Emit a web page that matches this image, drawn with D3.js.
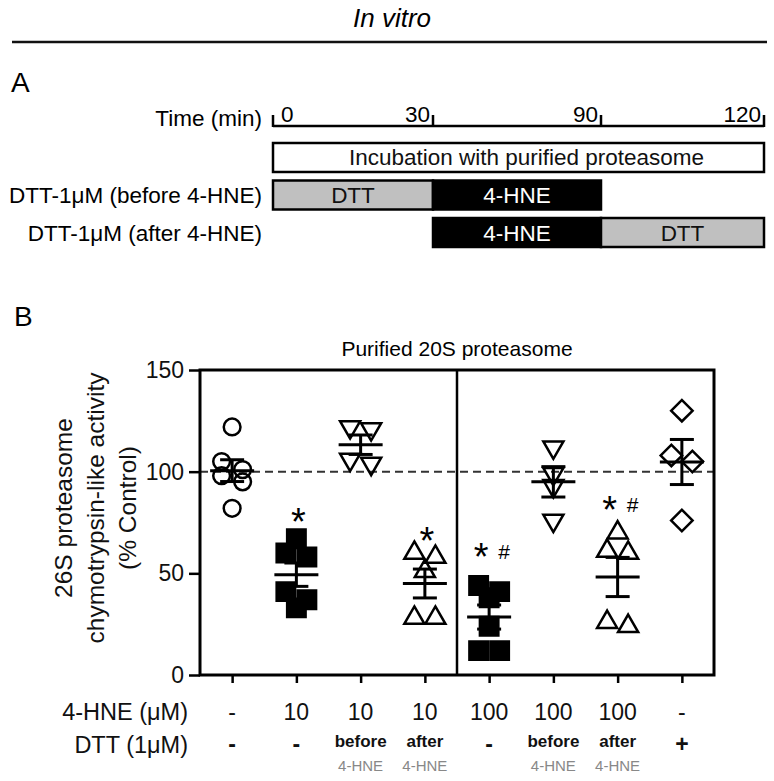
<!DOCTYPE html>
<html><head><meta charset="utf-8">
<script src="https://cdn.jsdelivr.net/npm/d3@7"></script>
<style>
body{margin:0;background:#fff;}
svg{display:block;font-family:"Liberation Sans",Arial,sans-serif;}
</style>
</head><body>
<svg id="c" width="774" height="781"></svg>
<script>
// ---------- Panel A data ----------
const timeTicks = [0, 30, 90, 120];
const timelineRowLabels = ["", "DTT-1\u03bcM (before 4-HNE)", "DTT-1\u03bcM (after 4-HNE)"];
const segRow   = [0, 1, 1, 2, 2];
const segStart = [0, 0, 30, 30, 90];
const segEnd   = [120, 30, 90, 90, 120];
const segLabel = ["Incubation with purified proteasome", "DTT", "4-HNE", "4-HNE", "DTT"];
const segKind  = ["white", "gray", "black", "black", "gray"];

// ---------- Panel B data ----------
const hneLabels = ["-", "10", "10", "10", "100", "100", "100", "-"];
const dttLabels = ["-", "-", "before", "after", "-", "before", "after", "+"];
const dttSubLabels = ["", "", "4-HNE", "4-HNE", "", "4-HNE", "4-HNE", ""];
const groupValues = [
  [122, 105, 101, 98, 95, 82],
  [67, 60, 58, 41, 37, 33],
  [122, 121, 106, 104],
  [60, 58, 51, 28, 28],
  [44, 41, 38, 24, 12, 12],
  [112, 99, 93, 76],
  [70, 61, 60, 26, 24],
  [130, 108, 105, 76]
];
const markerShapes = ["circle", "square", "triangleDown", "triangleUp", "square", "triangleDown", "triangleUp", "diamond"];
const markerFilled = [false, true, false, false, true, false, false, false];
const sigLabels = ["", "*", "", "*", "*#", "", "*#", ""];
const sigLevels = [null, 79, null, 70, 62, null, 85, null];
const yTicks = [0, 50, 100, 150];
const referenceLevel = 100;

const svg = d3.select("#c");

// ---------- Header ----------
svg.append("text").attr("x", 392).attr("y", 27).attr("text-anchor", "middle")
  .attr("font-size", 26).attr("font-style", "italic").text("In vitro");
svg.append("line").attr("x1", 12).attr("x2", 767).attr("y1", 42).attr("y2", 42)
  .attr("stroke", "#111").attr("stroke-width", 2.5);
svg.append("text").attr("x", 11).attr("y", 92).attr("font-size", 28).text("A");
svg.append("text").attr("x", 14).attr("y", 326).attr("font-size", 28).text("B");

// ---------- Panel A ----------
const tx = d3.scaleLinear().domain(timeTicks).range([273, 433, 601, 764]);
const rowY = d3.scaleBand().domain([0, 1, 2]).range([143, 247]).paddingInner(0.227);
const axisY = 126;
const fsA = 22.5;
const gA = svg.append("g");
gA.append("line").attr("x1", tx(0)).attr("x2", tx(120)).attr("y1", axisY).attr("y2", axisY)
  .attr("stroke", "#000").attr("stroke-width", 2.5);
gA.selectAll(".tt").data(timeTicks).join("line")
  .attr("x1", d => tx(d)).attr("x2", d => tx(d)).attr("y1", axisY + 1).attr("y2", axisY - 11)
  .attr("stroke", "#000").attr("stroke-width", 2.5);
gA.selectAll(".tl").data(timeTicks).join("text")
  .attr("x", (d, i) => i === 0 ? tx(d) + 8 : tx(d) - 3)
  .attr("y", axisY - 4)
  .attr("text-anchor", (d, i) => i === 0 ? "start" : "end")
  .attr("font-size", fsA).text(d => d);
gA.append("text").attr("x", 262).attr("y", axisY).attr("text-anchor", "end")
  .attr("font-size", fsA).text("Time (min)");
gA.selectAll(".rl").data(timelineRowLabels).join("text")
  .attr("x", 262).attr("y", (d, i) => rowY(i) + rowY.bandwidth() / 2 + 8)
  .attr("text-anchor", "end").attr("font-size", fsA).text(d => d);
const fills = {white: "#fff", gray: "#c0c0c0", black: "#000"};
const segIdx = d3.range(segRow.length);
gA.selectAll(".seg").data(segIdx).join("rect")
  .attr("x", i => tx(segStart[i])).attr("y", i => rowY(segRow[i]))
  .attr("width", i => tx(segEnd[i]) - tx(segStart[i])).attr("height", rowY.bandwidth())
  .attr("fill", i => fills[segKind[i]]).attr("stroke", "#000").attr("stroke-width", 2.5);
gA.selectAll(".segt").data(segIdx).join("text")
  .attr("x", i => (tx(segStart[i]) + tx(segEnd[i])) / 2 + (segKind[i] === "white" ? 8 : 0))
  .attr("y", i => rowY(segRow[i]) + rowY.bandwidth() / 2 + 8)
  .attr("text-anchor", "middle").attr("font-size", fsA)
  .attr("fill", i => segKind[i] === "black" ? "#fff" : "#111")
  .text(i => segLabel[i]);

// ---------- Panel B ----------
const L = 200, R = 714, T = 370, B = 675;
const x = d3.scalePoint().domain(d3.range(groupValues.length)).range([L, R]).padding(0.5);
const y = d3.scaleLinear().domain([0, 150]).range([B, T]);
const gB = svg.append("g");

gB.append("text").attr("x", (L + R) / 2).attr("y", 356).attr("text-anchor", "middle")
  .attr("font-size", 21).text("Purified 20S proteasome");

gB.append("line").attr("x1", L).attr("x2", R).attr("y1", y(referenceLevel)).attr("y2", y(referenceLevel))
  .attr("stroke", "#333").attr("stroke-width", 2).attr("stroke-dasharray", "8,5");

gB.append("rect").attr("x", L).attr("y", T).attr("width", R - L).attr("height", B - T)
  .attr("fill", "none").attr("stroke", "#000").attr("stroke-width", 3);
const divX = (x(3) + x(4)) / 2;
gB.append("line").attr("x1", divX).attr("x2", divX).attr("y1", T).attr("y2", B)
  .attr("stroke", "#000").attr("stroke-width", 2.5);

const yAxis = gB.append("g").attr("transform", `translate(${L},0)`)
  .call(d3.axisLeft(y).tickValues(yTicks).tickSize(11).tickPadding(5));
yAxis.select(".domain").remove();
yAxis.selectAll("line").attr("stroke-width", 2.5);
yAxis.selectAll("text").attr("font-size", 23).attr("font-family", "Liberation Sans, Arial, sans-serif").attr("fill", "#111");
const xAxis = gB.append("g").attr("transform", `translate(0,${B})`)
  .call(d3.axisBottom(x).tickFormat("").tickSize(8));
xAxis.select(".domain").remove();
xAxis.selectAll("line").attr("stroke-width", 2.5);

const yTitle = ["26S proteasome", "chymotrypsin-like activity", "(% Control)"];
const yTitleBase = [72, 104, 136];
gB.selectAll(".yt").data(yTitle).join("text")
  .attr("transform", (d, i) => `translate(${yTitleBase[i]},508) rotate(-90)`)
  .attr("text-anchor", "middle").attr("font-size", 24.5).attr("fill", "#111").text(d => d);

function swarmOffsets(vals, d, thr) {
  const idx = vals.map((v, i) => i).sort((a, b) => vals[b] - vals[a]);
  const rows = [];
  idx.forEach(i => {
    const r = rows[rows.length - 1];
    if (r && y(vals[i]) - y(vals[r[0]]) < thr) r.push(i); else rows.push([i]);
  });
  const off = new Array(vals.length);
  rows.forEach(r => r.forEach((i, k) => off[i] = (k - (r.length - 1) / 2) * d));
  return off;
}

const symbolFor = {
  circle: d3.symbol(d3.symbolCircle, 220)(),
  square: d3.symbol(d3.symbolSquare, 340)(),
  triangleUp: d3.symbol(d3.symbolTriangle, 175)(),
  triangleDown: d3.symbol(d3.symbolTriangle, 175)(),
  diamond: d3.symbol(d3.symbolSquare, 230)()
};
const symbolRot = {circle: 0, square: 0, triangleUp: 0, triangleDown: 180, diamond: 45};

groupValues.forEach((vals, gi) => {
  const cx = x(gi);
  const offs = swarmOffsets(vals, 21, 10);
  const shp = markerShapes[gi];
  const g = gB.append("g");
  g.selectAll("path").data(vals).join("path")
    .attr("d", symbolFor[shp])
    .attr("transform", (v, i) => `translate(${cx + offs[i]},${y(v)}) rotate(${symbolRot[shp]})`)
    .attr("fill", markerFilled[gi] ? "#000" : "none")
    .attr("stroke", "#000").attr("stroke-width", 2.5);
  const m = d3.mean(vals);
  const sem = d3.deviation(vals) / Math.sqrt(vals.length);
  const eb = g.append("g").attr("stroke", "#000").attr("stroke-width", 3);
  eb.append("line").attr("x1", cx).attr("x2", cx).attr("y1", y(m - sem)).attr("y2", y(m + sem));
  eb.append("line").attr("x1", cx - 12).attr("x2", cx + 12).attr("y1", y(m - sem)).attr("y2", y(m - sem));
  eb.append("line").attr("x1", cx - 12).attr("x2", cx + 12).attr("y1", y(m + sem)).attr("y2", y(m + sem));
  eb.append("line").attr("x1", cx - 22).attr("x2", cx + 22).attr("y1", y(m)).attr("y2", y(m));

  const s = sigLabels[gi];
  if (s) {
    const cy = y(sigLevels[gi]);
    const starX = s.length > 1 ? cx - 8 : cx + 2;
    gB.append("text").attr("x", starX).attr("y", cy + 21).attr("text-anchor", "middle")
      .attr("font-size", 38).text("*");
    if (s.includes("#")) {
      gB.append("text").attr("x", cx + 15).attr("y", cy + 10).attr("text-anchor", "middle")
        .attr("font-size", 21).text("#");
    }
  }
});

gB.append("text").attr("x", 188).attr("y", 720).attr("text-anchor", "end")
  .attr("font-size", 23.5).attr("fill", "#111").text("4-HNE (\u03bcM)");
gB.append("text").attr("x", 188).attr("y", 753).attr("text-anchor", "end")
  .attr("font-size", 23.5).attr("fill", "#111").text("DTT (1\u03bcM)");
gB.selectAll(".hl").data(hneLabels).join("text")
  .attr("x", (d, i) => x(i)).attr("y", 720).attr("text-anchor", "middle")
  .attr("font-size", 23).attr("fill", "#111").text(d => d);
gB.selectAll(".dl").data(dttLabels).join("text")
  .attr("x", (d, i) => x(i))
  .attr("y", d => d.length > 1 ? 747 : 752)
  .attr("text-anchor", "middle")
  .attr("font-size", d => d.length > 1 ? 17 : 23)
  .attr("font-weight", "bold").attr("fill", "#111").text(d => d);
gB.selectAll(".ds").data(dttSubLabels).join("text")
  .attr("x", (d, i) => x(i)).attr("y", 771).attr("text-anchor", "middle")
  .attr("font-size", 15).attr("fill", "#888").text(d => d);
</script>
</body></html>
